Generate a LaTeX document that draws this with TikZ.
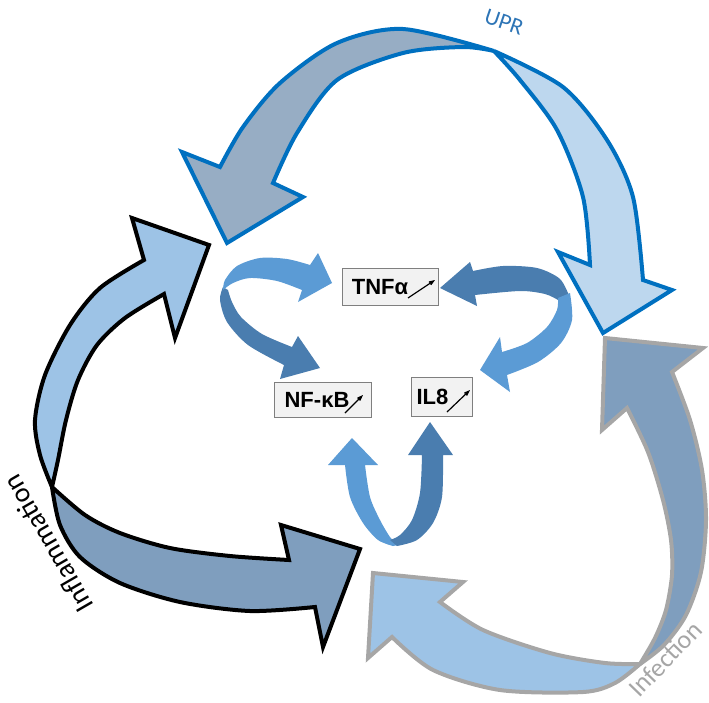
\documentclass[tikz,border=0pt]{standalone}
\usepackage{fontspec}
\setmainfont{Liberation Sans}
\newfontfamily\calfont{Carlito}
\usetikzlibrary{arrows.meta}

\definecolor{uprline}{HTML}{0070C0}
\definecolor{uprtext}{HTML}{2E75B6}
\definecolor{slate}{HTML}{97ADC4}
\definecolor{pale}{HTML}{BDD7EE}
\definecolor{sky}{HTML}{9DC3E6}
\definecolor{steel}{HTML}{7F9EBE}
\definecolor{infline}{HTML}{A6A6A6}
\definecolor{ribbonlt}{HTML}{5B9BD5}
\definecolor{ribbondk}{HTML}{4A7DAF}
\definecolor{boxfill}{HTML}{F2F2F2}
\definecolor{boxline}{HTML}{7F7F7F}

\begin{document}
\begin{tikzpicture}[x=1pt, y=-1pt, line join=miter, miter limit=4,
  bigarrow/.style={line width=4pt},
  gene/.style={draw=boxline, fill=boxfill, line width=1pt, inner sep=0pt, font=\fontsize{22}{26}\selectfont\bfseries},
  rise/.style={-{Stealth[length=8pt,width=6pt]}, line width=1.2pt},
  tag/.style={font=\calfont\fontsize{28}{32}\selectfont}]
\useasboundingbox (0,0) rectangle (709,702);

% UPR
\filldraw[bigarrow, draw=uprline, fill=slate] plot[smooth] coordinates {(494,51) (403,29) (337,43) (280,83) (243,127) (220,167)} -- (182,152) -- (227,243) -- (303,197) -- plot[smooth] coordinates {(273,183) (297,133) (337,80) (403,53) (463,47) (494,51)} -- cycle;
\filldraw[bigarrow, draw=uprline, fill=pale] plot[smooth] coordinates {(494,51) (563,87) (607,140) (633,197) (643,280)} -- (672,290) -- (603,333) -- (558,252) -- plot[smooth] coordinates {(590,265) (583,197) (557,130) (520,80) (494,51)} -- cycle;
\node[text=uprtext, font=\calfont\fontsize{23}{26}\selectfont, rotate=-19] (upr) at (504,22) {UPR};

% Inflammation
\filldraw[bigarrow, draw=black, fill=sky] plot[smooth] coordinates {(52,487) (40,455) (35,420) (45,375) (70,325) (100,288) (144,260)} -- (132,218) -- (209,245) -- (175,338) -- plot[smooth] coordinates {(164,294) (125,318) (97,345) (78,380) (66,420) (58,460) (52,487)} -- cycle;
\filldraw[bigarrow, draw=black, fill=steel] plot[smooth] coordinates {(52,487) (85,515) (120,533) (170,548) (230,556) (289,560)} -- (281,525) -- (360,549) -- (323,647) -- plot[smooth] coordinates {(315,607) (250,611) (180,602) (120,583) (80,557) (60,525) (52,487)} -- cycle;
\node[tag, rotate=120] (infl) at (48,544) {Inflammation};

% Infection
\filldraw[bigarrow, draw=infline, fill=sky] plot[smooth] coordinates {(640,664) (605,663) (550,653) (483,630) (440,602)} -- (463,582) -- (373,573) -- (368,658) -- plot[smooth] coordinates {(392,637) (433,670) (500,690) (583,692) (615,683) (640,664)} -- cycle;
\filldraw[bigarrow, draw=infline, fill=steel] plot[smooth] coordinates {(640,664) (655,638) (666,610) (672,575) (671,540) (663,500) (648,452) (627,408)} -- (602,430) -- (605,338) -- (703,348) -- plot[smooth] coordinates {(672,372) (690,420) (702,470) (706,520) (701,572) (686,615) (664,645) (640,664)} -- cycle;
\node[tag, text=infline, font=\calfont\fontsize{26}{30}\selectfont, rotate=46] (inf) at (665,659) {Infection};

% ribbons
\fill[ribbondk] plot[smooth] coordinates {(223,287) (220,300) (227,322) (248,345) (284,365)} -- (280,379) -- (320,368) -- (298,336) -- plot[smooth] coordinates {(292,347) (262,334) (241,317) (232,302) (228,290)} -- cycle;
\fill[ribbonlt] plot[smooth] coordinates {(223,290) (225,280) (237,266) (260,258) (287,259) (310,265)} -- (318,253) -- (332,283) -- (298,302) -- plot[smooth] coordinates {(302,290) (277,281) (250,278) (233,283) (223,290)} -- cycle;
\fill[ribbondk] (440,288) -- (470,262) -- plot[smooth] coordinates {(473,271) (503,266) (537,268) (560,279) (570,298)} -- plot[smooth] coordinates {(558,300) (545,294) (520,291) (475,295)} -- (477,306) -- cycle;
\fill[ribbonlt] plot[smooth] coordinates {(570,293) (572,320) (561,343) (538,362) (507,375)} -- (510,392) -- (480,370) -- (500,337) -- plot[smooth] coordinates {(502,352) (527,343) (547,327) (557,310) (558,298)} -- cycle;
\fill[ribbonlt] (352,438) -- (378,465) -- plot[smooth] coordinates {(365,465) (370,497) (380,520) (390,537) (398,545)} -- plot[smooth] coordinates {(393,546) (378,540) (363,523) (350,497) (345,465)} -- (328,465) -- cycle;
\fill[ribbondk] (430,422) -- (453,455) -- plot[smooth] coordinates {(443,455) (442,497) (433,523) (417,540) (397,546)} -- plot[smooth] coordinates {(390,540) (400,535) (412,520) (420,493) (422,455)} -- (408,455) -- cycle;

% boxes
\node[gene, minimum width=96pt, minimum height=37pt] (tnf) at (390,287) {TNFα\hspace*{20pt}};
\node[gene, minimum width=97pt, minimum height=35pt] (nfkb) at (323,400) {NF-κB\hspace*{12pt}};
\node[gene, minimum width=61pt, minimum height=39pt] (il8) at (442,397) {IL8\hspace*{19pt}};
\draw[rise] (tnf.center) ++(18,11) -- ++(27,-18);
\draw[rise] (nfkb.center) ++(22,13) -- ++(18,-18);
\draw[rise] (il8.center) ++(5,15) -- ++(23,-22);
\end{tikzpicture}
\end{document}
